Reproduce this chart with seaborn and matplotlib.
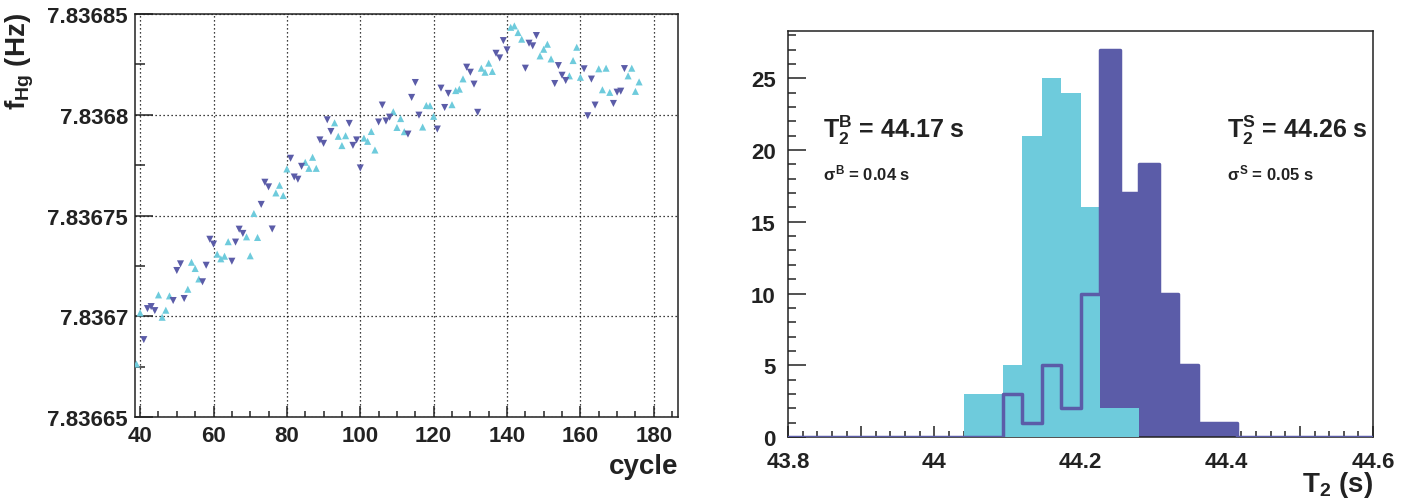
import numpy as np
import pandas as pd
import matplotlib
matplotlib.use("Agg")
import matplotlib.pyplot as plt
import seaborn as sns
from matplotlib.ticker import MultipleLocator, FixedLocator

# ---------------- data: left panel (f_Hg vs cycle) ----------------
cycles_B = [39, 40, 45, 46, 47, 48, 53, 54, 55, 56, 61, 62, 63, 64, 69, 70, 71, 72,
            77, 78, 79, 80, 85, 86, 87, 88, 93, 94, 95, 96, 101, 102, 103, 104,
            109, 110, 111, 112, 117, 118, 119, 120, 125, 126, 127, 128,
            133, 134, 135, 136, 141, 142, 143, 144, 149, 150, 151, 152,
            157, 158, 159, 160, 165, 166, 167, 168, 173, 174, 175, 176]
fHg_B = [7.8366763, 7.8367017, 7.8367106, 7.8366995, 7.8367030, 7.8367101,
         7.8367134, 7.8367268, 7.8367237, 7.8367185, 7.8367308, 7.8367285,
         7.8367298, 7.8367370, 7.8367394, 7.8367300, 7.8367510, 7.8367391,
         7.8367612, 7.8367650, 7.8367599, 7.8367731, 7.8367764, 7.8367734,
         7.8367789, 7.8367734, 7.8367960, 7.8367893, 7.8367847, 7.8367896,
         7.8367884, 7.8367868, 7.8367917, 7.8367825, 7.8368015, 7.8367937,
         7.8367981, 7.8367916, 7.8367939, 7.8368046, 7.8368045, 7.8367992,
         7.8368050, 7.8368120, 7.8368127, 7.8368178, 7.8368231, 7.8368211,
         7.8368256, 7.8368215, 7.8368434, 7.8368441, 7.8368408, 7.8368375,
         7.8368292, 7.8368325, 7.8368350, 7.8368277, 7.8368193, 7.8368269,
         7.8368335, 7.8368186, 7.8368228, 7.8368124, 7.8368231, 7.8368111,
         7.8368193, 7.8368231, 7.8368116, 7.8368163]

cycles_S = [41, 42, 43, 44, 49, 50, 51, 52, 57, 58, 59, 60, 65, 66, 67, 68,
            73, 74, 75, 76, 81, 82, 83, 84, 89, 90, 91, 92, 97, 98, 99, 100,
            105, 106, 107, 108, 113, 114, 115, 116, 121, 122, 123, 124,
            129, 130, 131, 132, 137, 138, 139, 140, 145, 146, 147, 148,
            153, 154, 155, 156, 161, 162, 163, 164, 169, 170, 171, 172]
fHg_S = [7.8366884, 7.8367038, 7.8367048, 7.8367028, 7.8367078, 7.8367227,
         7.8367260, 7.8367088, 7.8367171, 7.8367253, 7.8367382, 7.8367358,
         7.8367273, 7.8367368, 7.8367432, 7.8367411, 7.8367555, 7.8367665,
         7.8367642, 7.8367433, 7.8367784, 7.8367691, 7.8367680, 7.8367744,
         7.8367875, 7.8367858, 7.8367975, 7.8367917, 7.8367957, 7.8367848,
         7.8367875, 7.8367736, 7.8367964, 7.8368048, 7.8367969, 7.8367988,
         7.8367904, 7.8368086, 7.8368160, 7.8367998, 7.8367929, 7.8368132,
         7.8368036, 7.8368106, 7.8368236, 7.8368211, 7.8368152, 7.8368012,
         7.8368305, 7.8368282, 7.8368368, 7.8368322, 7.8368231, 7.8368355,
         7.8368342, 7.8368393, 7.8368155, 7.8368244, 7.8368196, 7.8368170,
         7.8368228, 7.8367995, 7.8368177, 7.8368048, 7.8368056, 7.8368112,
         7.8368117, 7.8368229]

left_yticks = [7.83665, 7.8367, 7.83675, 7.8368, 7.83685]
left_yticklabels = ["7.83665", "7.8367", "7.83675", "7.8368", "7.83685"]
left_xticks = [40, 60, 80, 100, 120, 140, 160, 180]

# ---------------- data: right panel (T2 histograms) ----------------
hist_lo, hist_hi, n_bins = 43.8, 44.6, 30
counts_B = [0, 0, 0, 0, 0, 0, 0, 0, 0, 3, 3, 5, 21, 25, 24, 16, 2, 2,
            0, 0, 0, 0, 0, 0, 0, 0, 0, 0, 0, 0]
counts_S = [0, 0, 0, 0, 0, 0, 0, 0, 0, 0, 0, 3, 1, 5, 2, 10, 27, 17, 19, 10,
            5, 1, 1, 0, 0, 0, 0, 0, 0, 0]
right_xticks = [43.8, 43.9, 44.0, 44.1, 44.2, 44.3, 44.4, 44.5, 44.6]
right_xticklabels = ["43.8", "", "44", "", "44.2", "", "44.4", "", "44.6"]
right_yticks = [0, 5, 10, 15, 20, 25]

# ---------------- style ----------------
CYAN = "#6ecbdc"
DARK = "#5b5ca8"
sns.set_style("ticks")
plt.rcParams["font.family"] = ["Liberation Sans", "DejaVu Sans"]
plt.rcParams["font.weight"] = "bold"
plt.rcParams["mathtext.fontset"] = "custom"
plt.rcParams["mathtext.rm"] = "Liberation Sans:bold"
plt.rcParams["mathtext.it"] = "Liberation Sans:bold"
plt.rcParams["mathtext.bf"] = "Liberation Sans:bold"
plt.rcParams["axes.linewidth"] = 1.1
TXT = "#222222"

fig = plt.figure(figsize=(14.16, 5.02), dpi=100)
ax1 = fig.add_axes([135/1416, 1-418/502, (678-135)/1416, (418-15)/502])
ax2 = fig.add_axes([788/1416, 1-438/502, (1373-788)/1416, (438-32)/502])

# ---------------- left panel ----------------
df = pd.DataFrame({
    "cycle": cycles_B + cycles_S,
    "f": fHg_B + fHg_S,
    "grp": ["B"] * len(cycles_B) + ["S"] * len(cycles_S),
})
sns.scatterplot(data=df, x="cycle", y="f", hue="grp", style="grp",
                markers={"B": "^", "S": "v"}, palette={"B": CYAN, "S": DARK},
                s=26, linewidth=0, legend=False, ax=ax1, zorder=3)
ax1.set_xlim(38.6, 186.6)
ax1.set_ylim(7.83665, 7.83685)
ax1.set_yticks(left_yticks)
ax1.set_yticklabels(left_yticklabels)
ax1.yaxis.set_minor_locator(MultipleLocator(0.000025))
ax1.set_xticks(left_xticks)
ax1.xaxis.set_minor_locator(MultipleLocator(5))
ax1.grid(True, which="major", linestyle=(0, (1, 2.2)), color="black", linewidth=0.9)
ax1.set_axisbelow(True)
ax1.tick_params(axis="y", which="major", direction="in", length=13, width=1.1,
                labelsize=16, pad=5, colors=TXT)
ax1.tick_params(axis="y", which="minor", direction="in", length=7, width=1.1)
ax1.tick_params(axis="x", which="major", direction="in", length=8, width=1.1,
                labelsize=16, pad=6, colors=TXT)
ax1.tick_params(axis="x", which="minor", direction="in", length=4, width=1.1)
ax1.set_xlabel("")
ax1.set_ylabel("")
for sp in ax1.spines.values():
    sp.set_visible(True)
    sp.set_color(TXT)
fig.text(678/1416, 1-474/502, "cycle", ha="right", va="baseline", fontsize=20,
         fontweight="bold", color=TXT)
fig.text(20/1416, 1-13/502, r"f$_{\mathrm{Hg}}$ (Hz)", ha="center", va="top",
         rotation=90, fontsize=20, fontweight="bold", color=TXT)

# ---------------- right panel ----------------
edges = [float(e) for e in np.linspace(hist_lo, hist_hi, n_bins + 1)]
centers = [(a + b) / 2 for a, b in zip(edges[:-1], edges[1:])]
hdf = pd.DataFrame({"T2": centers, "nB": counts_B, "nS": counts_S})
sns.histplot(data=hdf, x="T2", weights="nS", bins=edges, element="step", fill=True,
             color=DARK, alpha=1, linewidth=0, ax=ax2, zorder=2)
sns.histplot(data=hdf, x="T2", weights="nB", bins=edges, element="step", fill=True,
             color=CYAN, alpha=1, linewidth=0, ax=ax2, zorder=3)
sns.histplot(data=hdf, x="T2", weights="nS", bins=edges, element="step", fill=False,
             color=DARK, linewidth=2.5, ax=ax2, zorder=4)
ax2.set_xlim(hist_lo, hist_hi)
ax2.set_ylim(0, 28.3)
ax2.xaxis.set_major_locator(FixedLocator(right_xticks))
ax2.set_xticklabels(right_xticklabels)
ax2.xaxis.set_minor_locator(MultipleLocator(0.02))
ax2.set_yticks(right_yticks)
ax2.yaxis.set_minor_locator(MultipleLocator(1))
ax2.tick_params(axis="y", which="major", direction="in", length=13, width=1.1,
                labelsize=16, pad=9, colors=TXT)
ax2.tick_params(axis="y", which="minor", direction="in", length=6, width=1.1)
ax2.tick_params(axis="x", which="major", direction="in", length=8, width=1.1,
                labelsize=16, pad=10, colors=TXT)
ax2.tick_params(axis="x", which="minor", direction="in", length=4, width=1.1)
ax2.set_xlabel("")
ax2.set_ylabel("")
for sp in ax2.spines.values():
    sp.set_visible(True)
    sp.set_color(TXT)
ax2.text(0.06, 0.739, r"T$_2^B$ = 44.17 s", transform=ax2.transAxes, ha="left",
         va="baseline", fontsize=18, fontweight="bold", color=TXT)
ax2.text(0.06, 0.635, r"$\sigma^B$ = 0.04 s", transform=ax2.transAxes, ha="left",
         va="baseline", fontsize=12, fontweight="bold", color=TXT)
ax2.text(0.750, 0.739, r"T$_2^S$ = 44.26 s", transform=ax2.transAxes, ha="left",
         va="baseline", fontsize=18, fontweight="bold", color=TXT)
ax2.text(0.750, 0.635, r"$\sigma^S$ = 0.05 s", transform=ax2.transAxes, ha="left",
         va="baseline", fontsize=12, fontweight="bold", color=TXT)
fig.text(1373/1416, 1-492/502, r"T$_2$ (s)", ha="right", va="baseline", fontsize=20,
         fontweight="bold", color=TXT)

fig.savefig("out.png", dpi=100)
